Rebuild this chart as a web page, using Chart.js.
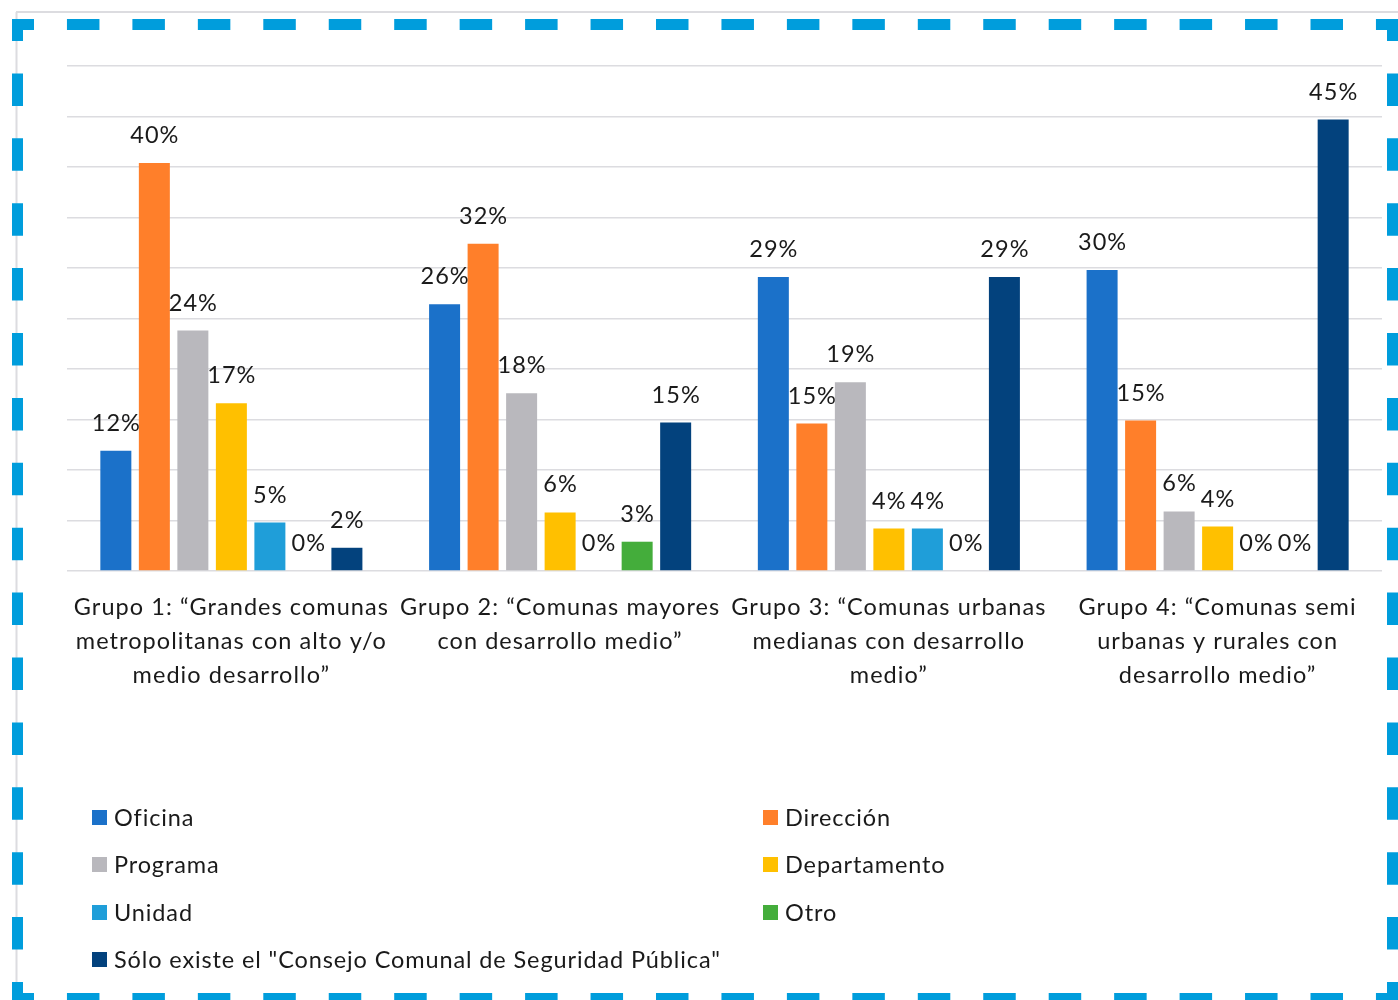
<!DOCTYPE html>
<html><head><meta charset="utf-8">
<script src="https://cdn.jsdelivr.net/npm/chart.js@4.4.1/dist/chart.umd.min.js"></script>
<style>
html,body{margin:0;padding:0;background:#fff;}
#wrap{position:relative;width:1398px;height:1000px;overflow:hidden;background:#fff;}
#c{position:absolute;left:0;top:0;}
#frame{position:absolute;left:0;top:0;}
#legend{position:absolute;left:0;top:0;width:1398px;height:1000px;font-family:Lato,"Open Sans",sans-serif;font-size:23.5px;letter-spacing:0.88px;color:#1a1a1a;}
.li{position:absolute;display:flex;align-items:center;white-space:nowrap;height:30px;}
.sw{width:15px;height:15px;margin-right:7px;flex:none;}
#border{position:absolute;left:0;top:0;}
</style></head>
<body><div id="wrap">
<svg id="frame" width="1398" height="1000">
  <line x1="16" y1="12" x2="1398" y2="12" stroke="#dcdce0" stroke-width="2"/>
  <line x1="16.5" y1="12" x2="16.5" y2="1000" stroke="#dcdce0" stroke-width="2"/>
</svg>
<canvas id="c" width="1398" height="1000"></canvas>
<div id="legend"></div>
<svg id="border" width="1398" height="1000">
  <g stroke="#009DDC" stroke-width="11" fill="none">
    <line x1="12" y1="24.5" x2="1410" y2="24.5" stroke-dasharray="32.5 32.95" stroke-dashoffset="10.5"/>
    <line x1="12" y1="998.5" x2="1410" y2="998.5" stroke-dasharray="32.5 32.95" stroke-dashoffset="10.5"/>
    <line x1="17.5" y1="19" x2="17.5" y2="1010" stroke-dasharray="32.5 32.4" stroke-dashoffset="10.5"/>
    <line x1="1392.5" y1="19" x2="1392.5" y2="1010" stroke-dasharray="32.5 32.4" stroke-dashoffset="10.5"/>
  </g>
</svg>
</div>
<script>
// ---- data ----
const categories = [
  ['Grupo 1: “Grandes comunas', 'metropolitanas con alto y/o', 'medio desarrollo”'],
  ['Grupo 2: “Comunas mayores', 'con desarrollo medio”'],
  ['Grupo 3: “Comunas urbanas', 'medianas con desarrollo', 'medio”'],
  ['Grupo 4: “Comunas semi', 'urbanas y rurales con', 'desarrollo medio”']
];
const seriesNames = ['Oficina', 'Dirección', 'Programa', 'Departamento', 'Unidad', 'Otro', 'Sólo existe el "Consejo Comunal de Seguridad Pública"'];
const oficina      = [11.9, 26.4, 29.1, 29.8];
const direccion    = [40.4, 32.4, 14.6, 14.9];
const programa     = [23.8, 17.6, 18.7, 5.9];
const departamento = [16.6, 5.8, 4.2, 4.4];
const unidad       = [4.8, 0, 4.2, 0];
const otro         = [0, 2.9, 0, 0];
const soloConsejo  = [2.3, 14.7, 29.1, 44.7];
const seriesValues = [oficina, direccion, programa, departamento, unidad, otro, soloConsejo];
const seriesColors = ['#1B71C9', '#FF7F2A', '#B9B8BD', '#FFC000', '#1F9ED9', '#44AD3B', '#03427D'];
const yMax = 50, yStep = 5;

const FONT = 'Lato, "Open Sans", sans-serif';
const TEXT = '#1a1a1a';
const SPACING = '1.05px';

const spacingPlugin = {
  id: 'spacing',
  beforeDraw(chart) { chart.ctx.letterSpacing = SPACING; }
};

const valueLabels = {
  id: 'valueLabels',
  afterDatasetsDraw(chart) {
    const ctx = chart.ctx;
    ctx.save();
    ctx.letterSpacing = SPACING;
    ctx.font = '23.5px ' + FONT;
    ctx.fillStyle = TEXT;
    ctx.textAlign = 'center';
    ctx.textBaseline = 'alphabetic';
    chart.data.datasets.forEach((ds, i) => {
      const meta = chart.getDatasetMeta(i);
      meta.data.forEach((el, j) => {
        ctx.fillText(Math.round(ds.data[j]) + '%', el.x + 0.5, el.y - 20);
      });
    });
    ctx.restore();
  }
};

const chart = new Chart(document.getElementById('c'), {
  type: 'bar',
  data: {
    labels: categories,
    datasets: seriesNames.map((n, i) => ({
      label: n,
      data: seriesValues[i],
      backgroundColor: seriesColors[i],
      borderWidth: 0,
      categoryPercentage: 0.82,
      barPercentage: 0.805
    }))
  },
  options: {
    responsive: false,
    animation: false,
    events: [],
    layout: { padding: { left: 67, right: 16, top: 66, bottom: 0 } },
    plugins: { legend: { display: false }, tooltip: { enabled: false }, title: { display: false } },
    scales: {
      x: {
        grid: { display: false, drawTicks: false },
        border: { display: false },
        ticks: {
          autoSkip: false, maxRotation: 0, minRotation: 0, padding: 20,
          color: TEXT, font: { family: FONT, size: 23.5, lineHeight: 1.43 }
        },
        afterFit(scale) { scale.height = 429; }
      },
      y: {
        min: 0, max: yMax,
        ticks: { display: false, stepSize: yStep },
        grid: { color: '#dcdce0', lineWidth: 1.5, drawTicks: false },
        border: { display: false },
        afterFit(scale) { scale.width = 0; }
      }
    }
  },
  plugins: [spacingPlugin, valueLabels]
});

// HTML legend from datasets, two columns
const legend = document.getElementById('legend');
const colX = [92, 763], rowY = [817, 864, 912, 959];
chart.data.datasets.forEach((ds, i) => {
  const d = document.createElement('div');
  d.className = 'li';
  d.style.left = colX[i % 2] + 'px';
  d.style.top = (rowY[Math.floor(i / 2)] - 15) + 'px';
  const sw = document.createElement('span');
  sw.className = 'sw';
  sw.style.background = ds.backgroundColor;
  const t = document.createElement('span');
  t.textContent = ds.label;
  d.appendChild(sw); d.appendChild(t);
  legend.appendChild(d);
});
</script>
</body></html>
